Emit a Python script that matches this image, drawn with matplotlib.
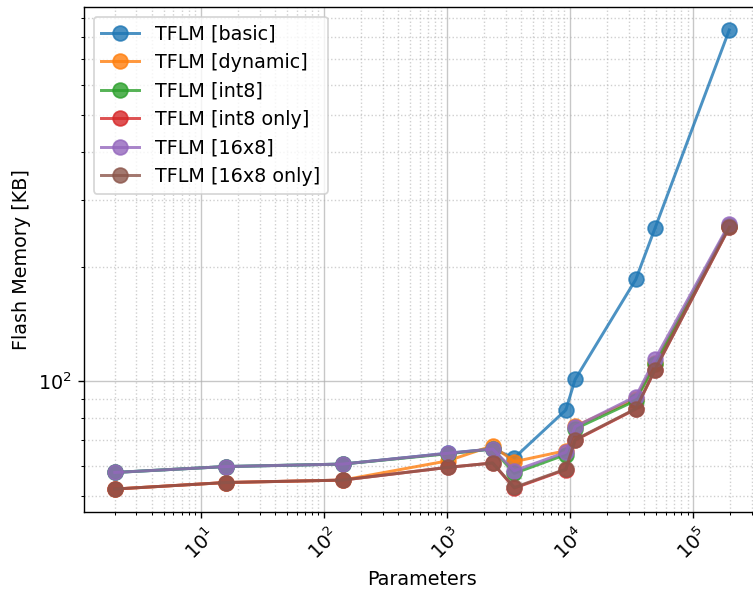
import matplotlib
matplotlib.use("Agg")
import matplotlib.pyplot as plt

# ==========================================
# DATA
# ==========================================

params = [2, 16, 142, 1014, 2350, 3524, 9250, 10990, 34200, 48940, 196500]

flash_basic = [57.7, 59.8, 60.7, 64.8, 66.5, 63.0, 84.2, 101.2, 185.2, 252.2, 836.0]
flash_dynamic = [52.2, 54.3, 55.1, 61.9, 67.8, 61.6, 65.8, 76.3, 90.0, 111.5, 256.0]
flash_int8 = [57.7, 59.8, 60.7, 64.6, 66.5, 57.4, 64.3, 75.1, 89.1, 111.0, 256.5]
flash_int8_only = [52.2, 54.3, 55.1, 59.5, 61.1, 52.5, 58.7, 70.1, 84.6, 107.2, 253.5]
flash_16x8 = [57.7, 59.8, 60.7, 64.8, 66.5, 58.3, 65.2, 76.1, 91.3, 114.3, 259.0]
flash_16x8_only = [52.2, 54.3, 55.1, 59.5, 61.1, 52.7, 58.9, 70.3, 84.8, 107.4, 253.9]

labels = [
    "TFLM [basic]",
    "TFLM [dynamic]",
    "TFLM [int8]",
    "TFLM [int8 only]",
    "TFLM [16x8]",
    "TFLM [16x8 only]",
]

series = [
    flash_basic,
    flash_dynamic,
    flash_int8,
    flash_int8_only,
    flash_16x8,
    flash_16x8_only,
]

# ==========================================
# PLOT
# ==========================================

plt.rcParams["font.size"] = 11

fig = plt.figure(figsize=(753 / 125, 592 / 125), dpi=125)

ax = fig.add_axes([84 / 753, 80 / 592, 676 / 753, 505 / 592])

for values, label in zip(series, labels):

    ax.plot(
        params,
        values,
        marker="o",
        markersize=8.5,
        linewidth=1.7,
        alpha=0.8,
        label=label
    )

ax.set_xscale("log")
ax.set_yscale("log")

ax.grid(True, which="major", linestyle="-", color="#b0b0b0", alpha=0.7)
ax.grid(True, which="minor", linestyle=":", color="#b0b0b0", alpha=0.6)

ax.set_xlabel("Parameters")
ax.set_ylabel("Flash Memory [KB]")

plt.setp(ax.get_xticklabels(), rotation=45)

ax.legend(loc="upper left")

fig.savefig("out.png", dpi=125)
